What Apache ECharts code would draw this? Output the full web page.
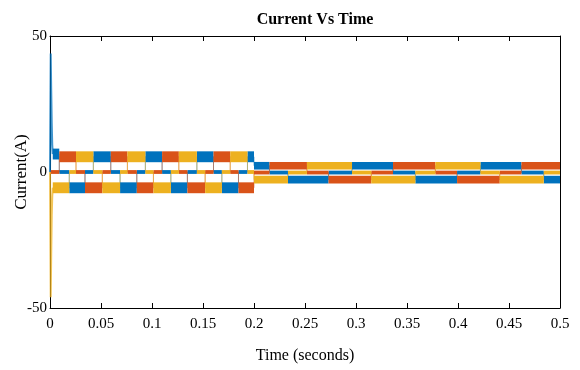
<!DOCTYPE html>
<html>
<head>
<meta charset="utf-8">
<script src="https://cdn.jsdelivr.net/npm/echarts@6/dist/echarts.min.js"></script>
<style>
  html, body { margin: 0; padding: 0; background: #fff; }
  #chart { width: 580px; height: 370px; }
</style>
</head>
<body>
<div id="chart"></div>
<script>
// x axis ticks (seconds), y axis ticks (A)
const xTicks = [0, 0.05, 0.1, 0.15, 0.2, 0.25, 0.3, 0.35, 0.4, 0.45, 0.5]
const yTicks = [-50, 0, 50]

// start-up transient
const spikeT = [0, 0.0007, 0.0012, 0.0017, 0.0022, 0.0027]
const blueSpike = [0, 43.6, 30, 18, 10, 6.6]
const yellowSpike = [0, -46, -30, -16, -9, -5.8]

// phase currents: segment boundaries (s) and the level held in each segment (A)
const blueT = [0.0027, 0.0091, 0.0189, 0.0343, 0.0425, 0.0596, 0.0687, 0.0851, 0.0935, 0.1099, 0.1185, 0.1347, 0.1440, 0.1603, 0.1685, 0.1848, 0.1936, 0.2, 0.2152, 0.2333, 0.2731, 0.2961, 0.3363, 0.3582, 0.3991, 0.4220, 0.4622, 0.4841, 0.5]
const blueI = [6.6, 0, -5.8, 0, 5.6, 0, -5.8, 0, 5.6, 0, -5.8, 0, 5.6, 0, -5.8, 0, 5.6, 2.3, -0.2, -2.8, -0.2, 2.3, -0.2, -2.8, -0.2, 2.3, -0.2, -2.8]

const orangeT = [0, 0.0091, 0.0255, 0.0343, 0.0513, 0.0596, 0.0759, 0.0851, 0.1014, 0.1099, 0.1263, 0.1347, 0.1521, 0.1603, 0.1767, 0.1848, 0.2, 0.2152, 0.2519, 0.2731, 0.3150, 0.3363, 0.3778, 0.3991, 0.4409, 0.4622, 0.5]
const orangeI = [0, 5.6, 0, -5.8, 0, 5.6, 0, -5.8, 0, 5.6, 0, -5.8, 0, 5.6, 0, -5.8, -0.2, 2.3, -0.2, -2.8, -0.2, 2.3, -0.2, -2.8, -0.2, 2.3]

const yellowT = [0.0027, 0.0189, 0.0255, 0.0425, 0.0513, 0.0687, 0.0759, 0.0935, 0.1014, 0.1185, 0.1263, 0.1440, 0.1521, 0.1685, 0.1767, 0.1936, 0.2, 0.2333, 0.2519, 0.2961, 0.3150, 0.3582, 0.3778, 0.4220, 0.4409, 0.4841, 0.5]
const yellowI = [-5.8, 0, 5.6, 0, -5.8, 0, 5.6, 0, -5.8, 0, 5.6, 0, -5.8, 0, 5.6, 0, -2.8, -0.2, 2.3, -0.2, -2.8, -0.2, 2.3, -0.2, -2.8, -0.2]

// half height of the ripple band around each level (A)
const rippleOn = [2.0, 1.4]   // conducting: before / after 0.2 s
const rippleOff = 0.7         // idle phase

const colors = ['#0072BD', '#D95319', '#EDB120']
const font = '"Liberation Serif", "Times New Roman", serif'

function bandData(t, lv) {
  let out = []
  for (let i = 0; i < lv.length; i++) {
    let half = Math.abs(lv[i]) < 1 ? rippleOff : (t[i] < 0.2 ? rippleOn[0] : rippleOn[1])
    out.push([t[i], t[i + 1], lv[i], half])
  }
  return out
}

function traceData(t, lv) {
  let out = []
  for (let i = 0; i < lv.length; i++) {
    out.push([t[i], lv[i]])
    out.push([t[i + 1], lv[i]])
  }
  return out
}

function renderBand(params, api) {
  let p0 = api.coord([api.value(0), api.value(2) + api.value(3)])
  let p1 = api.coord([api.value(1), api.value(2) - api.value(3)])
  return {
    type: 'rect',
    shape: { x: p0[0], y: p0[1], width: p1[0] - p0[0], height: p1[1] - p0[1] },
    style: { fill: api.visual('color') }
  }
}

const phases = [[blueT, blueI], [orangeT, orangeI], [yellowT, yellowI]]

let series = []
phases.forEach((p, k) => {
  series.push({
    type: 'line',
    data: traceData(p[0], p[1]),
    showSymbol: false,
    silent: true,
    z: 1,
    lineStyle: { color: colors[k], width: 1, opacity: 0.55 }
  })
})
phases.forEach((p, k) => {
  series.push({
    type: 'custom',
    renderItem: renderBand,
    data: bandData(p[0], p[1]),
    encode: { x: [0, 1], y: [2] },
    itemStyle: { color: colors[k] },
    silent: true,
    clip: true,
    z: 2
  })
})
series.push({
  type: 'line',
  data: spikeT.map((t, i) => [t, blueSpike[i]]),
  showSymbol: false,
  z: 3,
  lineStyle: { color: colors[0], width: 2, opacity: 0.75 }
})
series.push({
  type: 'line',
  data: spikeT.map((t, i) => [t, yellowSpike[i]]),
  showSymbol: false,
  z: 3,
  lineStyle: { color: colors[2], width: 2, opacity: 0.75 }
})

const chart = echarts.init(document.getElementById('chart'), null, { renderer: 'canvas' })

const axisLine = { show: true, onZero: false, lineStyle: { color: '#000', width: 1 } }
const tick = { show: true, inside: true, length: 5, lineStyle: { color: '#000' } }

chart.setOption({
  animation: false,
  backgroundColor: '#fff',
  title: {
    text: 'Current Vs Time',
    left: 310,
    top: 7,
    textAlign: 'center',
    textStyle: { fontFamily: font, fontSize: 16, fontWeight: 'bold', color: '#000' }
  },
  grid: { left: 50, right: 20, top: 36, bottom: 62, containLabel: false, outerBoundsMode: 'none' },
  xAxis: [
    {
      type: 'value',
      min: xTicks[0],
      max: xTicks[xTicks.length - 1],
      interval: 0.05,
      name: 'Time (seconds)',
      nameLocation: 'middle',
      nameGap: 40,
      nameMoveOverlap: false,
      nameTextStyle: { fontFamily: font, fontSize: 16, color: '#000' },
      axisLine: axisLine,
      axisTick: tick,
      axisLabel: { fontFamily: font, fontSize: 15, color: '#000', margin: 9 },
      splitLine: { show: false }
    },
    {
      type: 'value',
      position: 'top',
      min: xTicks[0],
      max: xTicks[xTicks.length - 1],
      interval: 0.05,
      axisLine: axisLine,
      axisTick: tick,
      axisLabel: { show: false },
      splitLine: { show: false }
    }
  ],
  yAxis: [
    {
      type: 'value',
      min: yTicks[0],
      max: yTicks[yTicks.length - 1],
      interval: 50,
      name: 'Current(A)',
      nameLocation: 'middle',
      nameGap: 20,
      nameMoveOverlap: false,
      nameTextStyle: { fontFamily: font, fontSize: 17, color: '#000' },
      axisLine: axisLine,
      axisTick: tick,
      axisLabel: { fontFamily: font, fontSize: 15, color: '#000', margin: 3 },
      splitLine: { show: false }
    },
    {
      type: 'value',
      position: 'right',
      min: yTicks[0],
      max: yTicks[yTicks.length - 1],
      interval: 50,
      axisLine: axisLine,
      axisTick: tick,
      axisLabel: { show: false },
      splitLine: { show: false }
    }
  ],
  series: series
})
</script>
</body>
</html>
